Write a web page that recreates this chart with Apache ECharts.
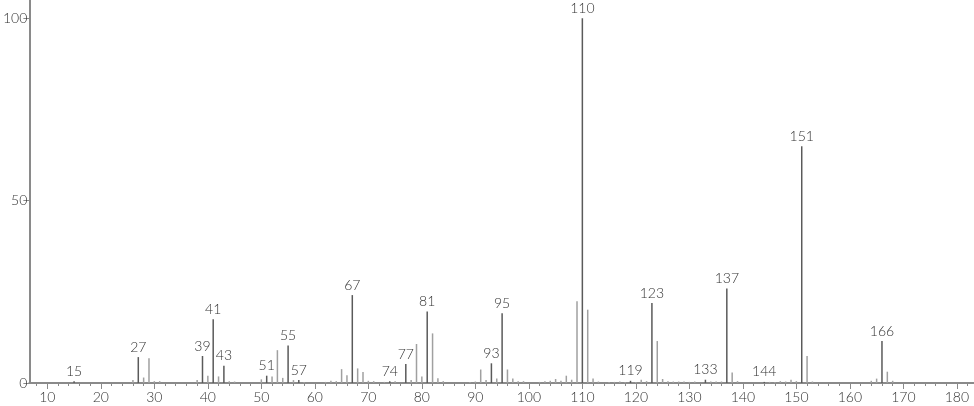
<!DOCTYPE html>
<html>
<head>
<meta charset="utf-8">
<script src="https://cdn.jsdelivr.net/npm/echarts@6/dist/echarts.min.js"></script>
<style>
  html, body { margin: 0; padding: 0; background: #fff; }
  #chart { width: 974px; height: 406px; }
</style>
</head>
<body>
<div id="chart"></div>
<script>
// m/z values of the peaks
const mz = [
  15, 26, 27, 28, 29, 30, 31, 38, 39, 40, 41, 42, 43, 44, 45,
  50, 51, 52, 53, 54, 55, 56, 57, 58, 62, 63, 64, 65, 66, 67, 68, 69, 70, 71,
  73, 74, 75, 77, 78, 79, 80, 81, 82, 83, 84, 89, 90, 91, 92, 93, 94, 95, 96, 97, 98, 99,
  102, 103, 104, 105, 106, 107, 108, 109, 110, 111, 112, 113, 115, 116, 117, 118, 119, 120,
  121, 122, 123, 124, 125, 126, 127, 128, 129, 130, 131, 133, 134, 135, 136, 137, 138, 139,
  144, 145, 146, 147, 148, 149, 150, 151, 152, 153, 164, 165, 166, 167, 168
];
// relative intensity (%)
const intensity = [
  0.5, 0.8, 7.1, 1.5, 6.8, 0.5, 0.5, 0.8, 7.4, 2.0, 17.5, 1.8, 4.7, 0.5, 0.4,
  1.0, 2.0, 1.8, 9.0, 1.4, 10.3, 0.8, 0.8, 0.3, 0.3, 0.6, 0.5, 3.8, 2.1, 24.1, 4.0, 3.0, 0.6, 0.5,
  0.3, 0.5, 0.5, 5.2, 0.8, 10.7, 1.8, 19.6, 13.6, 1.3, 0.5, 0.3, 0.4, 3.7, 0.8, 5.4, 1.2, 19.1, 3.7, 1.2, 0.5, 0.5,
  0.3, 0.5, 0.6, 1.1, 0.6, 2.0, 0.9, 22.4, 100, 20.1, 1.2, 0.4, 0.3, 0.3, 0.4, 0.3, 0.6, 0.3,
  0.9, 0.5, 21.9, 11.5, 1.1, 0.5, 0.4, 0.4, 0.4, 0.3, 0.4, 0.9, 0.4, 0.4, 0.4, 25.9, 2.9, 0.5,
  0.3, 0.3, 0.3, 0.5, 0.4, 0.9, 0.5, 64.9, 7.4, 0.4, 0.6, 1.2, 11.5, 3.1, 0.6
];
// peaks carrying a label
const labeled = [15, 27, 39, 41, 43, 51, 55, 57, 67, 74, 77, 81, 93, 95, 110, 119, 123, 133, 137, 144, 151, 166];

const xLabels = [10, 20, 30, 40, 50, 60, 70, 80, 90, 100, 110, 120, 130, 140, 150, 160, 170, 180];
const xMinorTicks = [];
for (let v = 8; v <= 182; v += 2) xMinorTicks.push(v);
const yLabels = [0, 50, 100];

const font = 'Lato';

let myChart = echarts.init(document.getElementById('chart'));

let seriesData = mz.map((m, i) => {
  let isLab = labeled.indexOf(m) >= 0;
  return {
    value: [m, intensity[i]],
    itemStyle: {color: isLab ? '#5a5a5a' : '#a0a0a0'},
    label: {show: isLab}
  };
});

myChart.setOption({
  animation: false,
  backgroundColor: '#fff',
  grid: {left: 29, right: 0, top: 0, bottom: 23},
  xAxis: [{
    type: 'value',
    min: 6.64,
    max: 183.2,
    axisLine: {lineStyle: {color: '#8a8a8a', width: 2}},
    axisTick: {customValues: xLabels, length: 6, lineStyle: {color: '#8a8a8a', width: 1}},
    axisLabel: {customValues: xLabels, color: '#333', fontSize: 14, fontWeight: 300, fontFamily: font, margin: 7},
    splitLine: {show: false}
  }, {
    type: 'value',
    position: 'bottom',
    min: 6.64,
    max: 183.2,
    axisLine: {show: false},
    axisTick: {customValues: xMinorTicks, length: 3, lineStyle: {color: '#8a8a8a', width: 1}},
    axisLabel: {show: false},
    splitLine: {show: false}
  }],
  yAxis: {
    type: 'value',
    min: 0,
    max: 105,
    axisLine: {show: true, lineStyle: {color: '#8a8a8a', width: 2}},
    axisTick: {show: true, customValues: yLabels, length: 6, lineStyle: {color: '#8a8a8a'}},
    axisLabel: {customValues: yLabels, color: '#333', fontSize: 14, fontWeight: 300, fontFamily: font, margin: 2},
    splitLine: {show: false}
  },
  series: [{
    type: 'bar',
    xAxisIndex: 0,
    barWidth: 1.5,
    data: seriesData,
    label: {
      position: 'top',
      distance: 3,
      color: '#333',
      fontSize: 14,
      fontWeight: 300,
      fontFamily: font,
      formatter: (p) => p.value[0]
    }
  }]
});
</script>
</body>
</html>
